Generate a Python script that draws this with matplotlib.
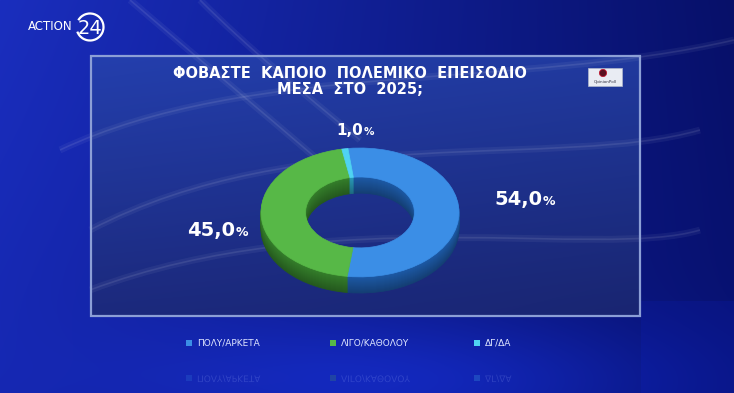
import numpy as np
import matplotlib.pyplot as plt
from matplotlib.patches import Rectangle, Arc, Circle, PathPatch
from matplotlib.path import Path
from matplotlib.textpath import TextPath
from matplotlib.font_manager import FontProperties
from matplotlib.transforms import Affine2D
from matplotlib.colors import to_rgb

# chart data
categories = ['ΠΟΛΥ/ΑΡΚΕΤΑ', 'ΛΙΓΟ/ΚΑΘΟΛΟΥ', 'ΔΓ/ΔΑ']
values = [54.0, 45.0, 1.0]
value_labels = ['54,0', '45,0', '1,0']
title_lines = ['ΦΟΒΑΣΤΕ  ΚΑΠΟΙΟ  ΠΟΛΕΜΙΚΟ  ΕΠΕΙΣΟΔΙΟ', 'ΜΕΣΑ  ΣΤΟ  2025;']

top_colors = ['#3b8ee6', '#57b847', '#4fd3f2']
side_colors = ['#1d5aa6', '#357f2b', '#2a9ab8']

W, H = 734, 393
fig = plt.figure(figsize=(7.34, 3.93), dpi=100)
bg = fig.add_axes([0, 0, 1, 1])
bg.set_xlim(0, W)
bg.set_ylim(H, 0)
bg.axis('off')

# studio style background: brighter on the left, navy on the right
yy, xx = np.mgrid[0:H, 0:W].astype(float)
sx = (xx / (W - 1))[..., None]
sy = (yy / (H - 1))[..., None]
left = np.array([26, 46, 190]) / 255
right = np.array([7, 16, 105]) / 255
img = left * (1 - sx) + right * sx
img = img * (1 - 0.3 * sy) + np.array([10, 22, 140]) / 255 * 0.3 * sy
# floor on the right and under the panel
floor = ((yy > 300) & (xx > 640))[..., None]
img = np.where(floor, img * 0.6 + np.array([10, 24, 150]) / 255 * 0.4, img)
under = np.exp(-((xx - 420) ** 2 / 260 ** 2 + (yy - 380) ** 2 / 60 ** 2))[..., None]
img = img + under * np.array([0.02, 0.05, 0.18])

# panel area
px0, py0, px1, py1 = 91, 56, 640, 316
inside = ((xx >= px0) & (xx <= px1) & (yy >= py0) & (yy <= py1))[..., None]
pt = ((yy - py0) / (py1 - py0)).clip(0, 1)[..., None]
pan = np.array([40, 70, 172]) / 255 * (1 - pt) + np.array([30, 42, 108]) / 255 * pt
img = np.where(inside, img * 0.25 + pan * 0.75, img)
bg.imshow(img.clip(0, 1), extent=(0, W, H, 0), aspect='auto', zorder=0)

# faint light streaks
streaks = [
    ((60, 150), (250, 60), (520, 90), (734, 40)),
    ((90, 230), (300, 120), (560, 170), (700, 130)),
    ((90, 290), (330, 200), (600, 260), (700, 230)),
    ((130, 0), (200, 60), (260, 110), (330, 170)),
    ((200, 0), (250, 50), (300, 90), (360, 140)),
]
for pts in streaks:
    p = Path(pts, [Path.MOVETO, Path.CURVE4, Path.CURVE4, Path.CURVE4])
    bg.add_patch(PathPatch(p, facecolor='none', edgecolor='white', lw=5, alpha=0.05, zorder=1))
    bg.add_patch(PathPatch(p, facecolor='none', edgecolor='white', lw=1.2, alpha=0.09, zorder=1))

bg.add_patch(Rectangle((px0, py0), px1 - px0, py1 - py0, facecolor='none',
                       edgecolor='#8c9fd6', lw=1.6, zorder=2))

# logos
bg.text(28, 27, 'ACTION', color='white', fontsize=8.5, va='center', ha='left', zorder=3)
bg.add_patch(Arc((90, 27), 27, 27, theta1=-150, theta2=160, color='white', lw=1.6, zorder=3))
bg.text(90, 28, '24', color='white', fontsize=14, va='center', ha='center', zorder=3)
bg.add_patch(Rectangle((588, 68), 34, 18, facecolor='#e9ecf3', edgecolor='#b0b8cc', lw=0.5, zorder=3))
bg.add_patch(Circle((603, 73), 3.6, facecolor='#5a1020', edgecolor='#c01830', lw=0.6, zorder=4))
bg.text(605, 82, 'OpinionPoll', fontsize=3, color='#333344', ha='center', va='center', zorder=4)

# title
bg.text(350, 78, title_lines[0], color='white', fontsize=10.5, fontweight='bold',
        ha='center', va='baseline', zorder=3)
bg.text(350, 94, title_lines[1], color='white', fontsize=10.5, fontweight='bold',
        ha='center', va='baseline', zorder=3)

# 3D donut
pax = fig.add_axes([261 / W, 1 - 293 / H, 198 / W, 145 / H])
thick = 0.25
n = 16
for k in range(n, 0, -1):
    f = 0.7 + 0.3 * (1 - k / n)
    cols = [tuple(np.array(to_rgb(c)) * f) for c in side_colors]
    wedges, _ = pax.pie(values, colors=cols, startangle=97, counterclock=False,
                        radius=1, center=(0, -thick * k / n), wedgeprops=dict(width=0.45))
    for w in wedges:
        w.set_edgecolor(w.get_facecolor())
        w.set_linewidth(0.6)
wedges, _ = pax.pie(values, colors=top_colors, startangle=97, counterclock=False,
                    radius=1, center=(0, 0), wedgeprops=dict(width=0.45))
for w in wedges:
    w.set_edgecolor(w.get_facecolor())
    w.set_linewidth(0.5)
pax.set_xlim(-1, 1)
pax.set_ylim(-1 - thick, 1)
pax.set_aspect('auto')
pax.axis('off')

# value labels
label_pos = [(542, 205, 14, 9), (235, 236, 14, 9), (363, 135, 11, 7.5)]
for lab, (x, y, fs, ps) in zip(value_labels, label_pos):
    bg.text(x, y, lab, color='white', fontsize=fs, fontweight='bold', ha='right', va='baseline', zorder=3)
    bg.text(x + 1, y, '%', color='white', fontsize=ps, fontweight='bold', ha='left', va='baseline', zorder=3)

# legend and its reflection
leg_x = [186, 330, 474]
fp = FontProperties(family='DejaVu Sans', size=6.5)
for cat, col, x in zip(categories, top_colors, leg_x):
    bg.add_patch(Rectangle((x, 339.5), 6, 6, facecolor=col, edgecolor='none', zorder=3))
    bg.text(x + 11, 342.5, cat, color='#dfe6ff', fontsize=6.5, va='center', ha='left', zorder=3)
    bg.add_patch(Rectangle((x, 375), 6, 6, facecolor=col, edgecolor='none', alpha=0.2, zorder=3))
    tp = TextPath((0, 0), cat, size=9, prop=fp)
    tp = Affine2D().translate(x + 11, 375.5).transform_path(tp)
    bg.add_patch(PathPatch(tp, facecolor='#9fb0ff', edgecolor='none', alpha=0.2, zorder=3))

fig.savefig('out.png', dpi=100)
